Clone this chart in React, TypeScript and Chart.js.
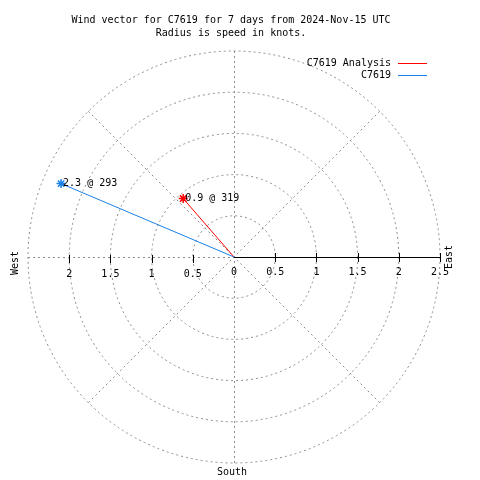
import React, { useEffect, useRef } from "react";
import { Chart, registerables } from "chart.js";

Chart.register(...registerables);

const titleLines = ["Wind vector for C7619 for 7 days from 2024-Nov-15 UTC", "Radius is speed in knots."];
const seriesNames = ["C7619 Analysis", "C7619"];
const seriesColors = ["#ff0000", "#1a80e6"];
const speeds = [0.94, 2.28];
const directions = [319, 293];
const radialTicks = [0, 0.5, 1, 1.5, 2, 2.5];
const compassLabels = ["West", "East", "South"];
const rMax = 2.5;

const FONT = "10px 'DejaVu Sans Mono', monospace";
const GRID = "#8c8c8c";

function toXY(speed: number, dir: number) {
  const a = (dir * Math.PI) / 180;
  return { x: speed * Math.sin(a), y: speed * Math.cos(a) };
}

const polarPlugin = {
  id: "polarGrid",
  beforeDatasetsDraw(chart: any) {
    const ctx = chart.ctx;
    const xs = chart.scales.x;
    const ys = chart.scales.y;
    const cx = xs.getPixelForValue(0);
    const cy = ys.getPixelForValue(0);
    const px = (v: number) => xs.getPixelForValue(v) - cx;
    ctx.save();
    ctx.strokeStyle = GRID;
    ctx.lineWidth = 1;
    ctx.setLineDash([2, 3]);
    radialTicks.filter((t) => t > 0).forEach((t) => {
      ctx.beginPath();
      ctx.arc(cx, cy, px(t), 0, Math.PI * 2);
      ctx.stroke();
    });
    const R = px(rMax);
    ctx.beginPath();
    ctx.moveTo(cx + 0.5, cy - R);
    ctx.lineTo(cx + 0.5, cy + R);
    ctx.stroke();
    ctx.beginPath();
    ctx.moveTo(cx - R, cy + 0.5);
    ctx.lineTo(cx, cy + 0.5);
    ctx.stroke();
    const d = R / Math.SQRT2;
    ctx.beginPath();
    ctx.moveTo(cx - d, cy - d);
    ctx.lineTo(cx + d, cy + d);
    ctx.moveTo(cx + d, cy - d);
    ctx.lineTo(cx - d, cy + d);
    ctx.stroke();
    ctx.setLineDash([]);
    ctx.strokeStyle = "#000";
    ctx.beginPath();
    ctx.moveTo(cx, cy + 0.5);
    ctx.lineTo(cx + R, cy + 0.5);
    ctx.stroke();
    ctx.fillStyle = "#000";
    ctx.font = FONT;
    ctx.textAlign = "center";
    ctx.textBaseline = "middle";
    radialTicks.forEach((t) => {
      const xr = Math.round(cx + px(t)) + 0.5;
      if (t > 0) {
        ctx.beginPath();
        ctx.moveTo(xr, cy - 4);
        ctx.lineTo(xr, cy + 5);
        ctx.stroke();
      }
      ctx.fillText(String(t), cx + px(t), cy + 15);
      if (t > 0 && t < rMax) {
        const xl = Math.round(cx - px(t)) + 0.5;
        ctx.beginPath();
        ctx.moveTo(xl, cy - 2);
        ctx.lineTo(xl, cy + 6);
        ctx.stroke();
        ctx.fillText(String(t), cx - px(t), cy + 17);
      }
    });
    ctx.save();
    ctx.translate(cx - R - 13, cy + 6);
    ctx.rotate(-Math.PI / 2);
    ctx.fillText(compassLabels[0], 0, 0);
    ctx.restore();
    ctx.save();
    ctx.translate(cx + R + 9, cy);
    ctx.rotate(-Math.PI / 2);
    ctx.fillText(compassLabels[1], 0, 0);
    ctx.restore();
    ctx.fillText(compassLabels[2], cx - 2, cy + R + 9);
    ctx.restore();
  },
  afterDatasetsDraw(chart: any) {
    const ctx = chart.ctx;
    const xs = chart.scales.x;
    const ys = chart.scales.y;
    ctx.save();
    ctx.fillStyle = "#000";
    ctx.font = FONT;
    ctx.textBaseline = "middle";
    ctx.textAlign = "left";
    speeds.forEach((s, i) => {
      const p = toXY(s, directions[i]);
      ctx.fillText(
        `${s.toFixed(1)} @ ${directions[i]}`,
        xs.getPixelForValue(p.x) + 2,
        ys.getPixelForValue(p.y)
      );
    });
    ctx.textAlign = "center";
    titleLines.forEach((t, i) => ctx.fillText(t, 231, 20 + i * 13));
    seriesNames.forEach((n, i) => {
      const y = 63 + i * 12;
      ctx.textAlign = "right";
      ctx.fillStyle = "#000";
      ctx.fillText(n, 391, y);
      ctx.fillStyle = seriesColors[i];
      ctx.fillRect(398, y, 29, 1);
    });
    ctx.restore();
  },
};

export default function App() {
  const ref = useRef<HTMLCanvasElement>(null);
  useEffect(() => {
    if (!ref.current) return;
    const datasets = speeds.map((s, i) => {
      const p = toXY(s, directions[i]);
      return {
        label: seriesNames[i],
        data: [{ x: 0, y: 0 }, p],
        showLine: true,
        borderColor: seriesColors[i],
        backgroundColor: seriesColors[i],
        borderWidth: 1,
        pointStyle: "star",
        pointRadius: [0, 4.5],
        pointBorderWidth: 1.5,
        pointBorderColor: seriesColors[i],
      };
    }).reverse();
    const chart = new Chart(ref.current, {
      type: "scatter",
      data: { datasets: datasets as any },
      options: {
        responsive: false,
        animation: false,
        layout: { padding: { left: 28, right: 40, top: 51, bottom: 17 } },
        scales: {
          x: { type: "linear", min: -rMax, max: rMax, display: false },
          y: { type: "linear", min: -rMax, max: rMax, display: false },
        },
        plugins: { legend: { display: false }, tooltip: { enabled: false }, title: { display: false } },
      },
      plugins: [polarPlugin],
    });
    return () => chart.destroy();
  }, []);
  return (
    <div style={{ position: "absolute", left: 0, top: 0, width: 480, height: 480, background: "#fff" }}>
      <canvas ref={ref} width={480} height={480} />
    </div>
  );
}
